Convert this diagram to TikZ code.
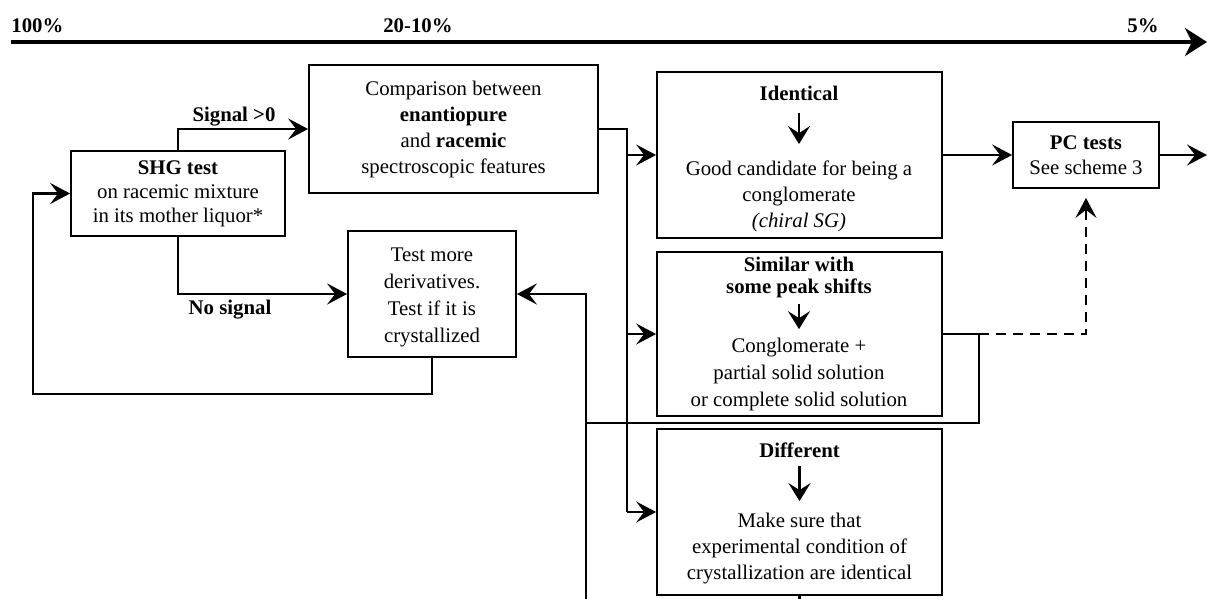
\documentclass[tikz,border=0pt]{standalone}
\usepackage{fontspec}
\setmainfont{Liberation Serif}
\usetikzlibrary{arrows.meta}
\begin{document}
\begin{tikzpicture}[x=0.5pt,y=-0.5pt,
  every node/.style={inner sep=0pt,align=center,font=\fontsize{10.4}{13}\selectfont},
  box/.style={draw,line width=0.9pt,rectangle},
  lab/.style={font=\fontsize{10.4}{13}\selectfont\bfseries},
  tip/.style={-{Stealth[length=10pt,width=10.5pt,inset=4pt]}},
  conn/.style={line width=1.25pt,tip},
  sconn/.style={line width=1.1pt,tip},
  thinline/.style={line width=0.7pt},
  thickline/.style={line width=1.35pt},
  iarr/.style={line width=1.4pt,-{Stealth[length=9pt,width=11pt,inset=3.5pt]}},
  dashconn/.style={line width=1.2pt,dash pattern=on 5pt off 3.5pt,tip}]
\useasboundingbox (0,0) rectangle (1207,599);

% axis
\coordinate (axL) at (11,42);
\coordinate (axR) at (1207,42);
\draw[line width=2.2pt,-{Stealth[length=11pt,width=14pt,inset=3.5pt]}] (axL) -- (axR);
\node[lab,anchor=base west] (p100) at (11,33) {100\%};
\node[lab,anchor=base] (p20) at (418,33) {20-10\%};
\node[lab,anchor=base] (p5) at (1143,33) {5\%};

% boxes
\node[box,minimum width=107pt,minimum height=42.5pt,font=\fontsize{10.4}{12}\selectfont] (shg) at (178,193.5)
  {\textbf{SHG test}\\on racemic mixture\\in its mother liquor*};
\node[box,minimum width=144.5pt,minimum height=64pt] (comp) at (453.5,129)
  {Comparison between\\\textbf{enantiopure}\\and \textbf{racemic}\\spectroscopic features};
\node[box,minimum width=84pt,minimum height=63pt] (test) at (432,294) {};
\node[font=\fontsize{10.4}{13.5}\selectfont] (testT) at (432,297)
  {Test more\\derivatives.\\Test if it is\\crystallized};
\node[box,minimum width=73pt,minimum height=33pt,font=\fontsize{10.4}{12.5}\selectfont] (pc) at (1086,155)
  {\textbf{PC tests}\\See scheme 3};

\node[box,minimum width=142.5pt,minimum height=83pt] (ident) at (799.5,155) {};
\node (identT) at (799,93) {\textbf{Identical}};
\node (identB) at (799,196) {Good candidate for being a\\conglomerate\\\textit{(chiral SG)}};
\draw[iarr,shorten <=6pt,shorten >=8pt] (identT.south) -- (identB.north);

\node[box,minimum width=142.5pt,minimum height=82pt] (simil) at (799.5,334) {};
\node[font=\fontsize{10.4}{11}\selectfont\bfseries] (similT) at (799,277) {Similar with\\some peak shifts};
\node[font=\fontsize{10.4}{13.5}\selectfont] (similB) at (799,374) {Conglomerate +\\partial solid solution\\or complete solid solution};
\draw[iarr,shorten <=3pt,shorten >=4pt] (similT.south) -- (similB.north);

\node[box,minimum width=142.5pt,minimum height=83pt] (diff) at (799.5,512) {};
\node (diffT) at (799.5,450) {\textbf{Different}};
\node (diffB) at (799.5,549) {Make sure that\\experimental condition of\\crystallization are identical};
\draw[iarr,shorten <=4pt,shorten >=6pt] (diffT.south) -- (diffB.north);

% labels
\node[lab] (sig) at (234,117) {Signal >0};
\node[lab] (nosig) at (230,310) {No signal};

% connectors
\draw[conn] (shg.north) |- (comp.west);
\draw[conn] (shg.south) |- (test.west);
\coordinate (fbc) at (33,394);
\draw[thickline,tip] (test.south) |- (fbc) |- (shg.west);

\coordinate (bus) at (627,0);
\draw[thinline] (comp.east) -| (bus |- diff.west);
\draw[sconn] (bus |- ident.west) -- (ident.west);
\draw[sconn] (bus |- simil.west) -- (simil.west);
\draw[sconn] (bus |- diff.west) -- (diff.west);

\draw[conn] (ident.east) -- (pc.west);
\coordinate (pcout) at (1207,155);
\draw[conn] (pc.east) -- (pcout);

\coordinate (sr) at (979,334);
\coordinate (vl) at (586,423);
\coordinate (bot) at (586,599);
\draw[thickline] (simil.east) -- (sr) |- (vl);
\draw[thickline,tip] (bot) |- (test.east);
\draw[dashconn,shorten >=4.5pt] (sr) -| (pc.south);
\draw[thickline] (diff.south) -- (diff.south |- bot);
\end{tikzpicture}
\end{document}
